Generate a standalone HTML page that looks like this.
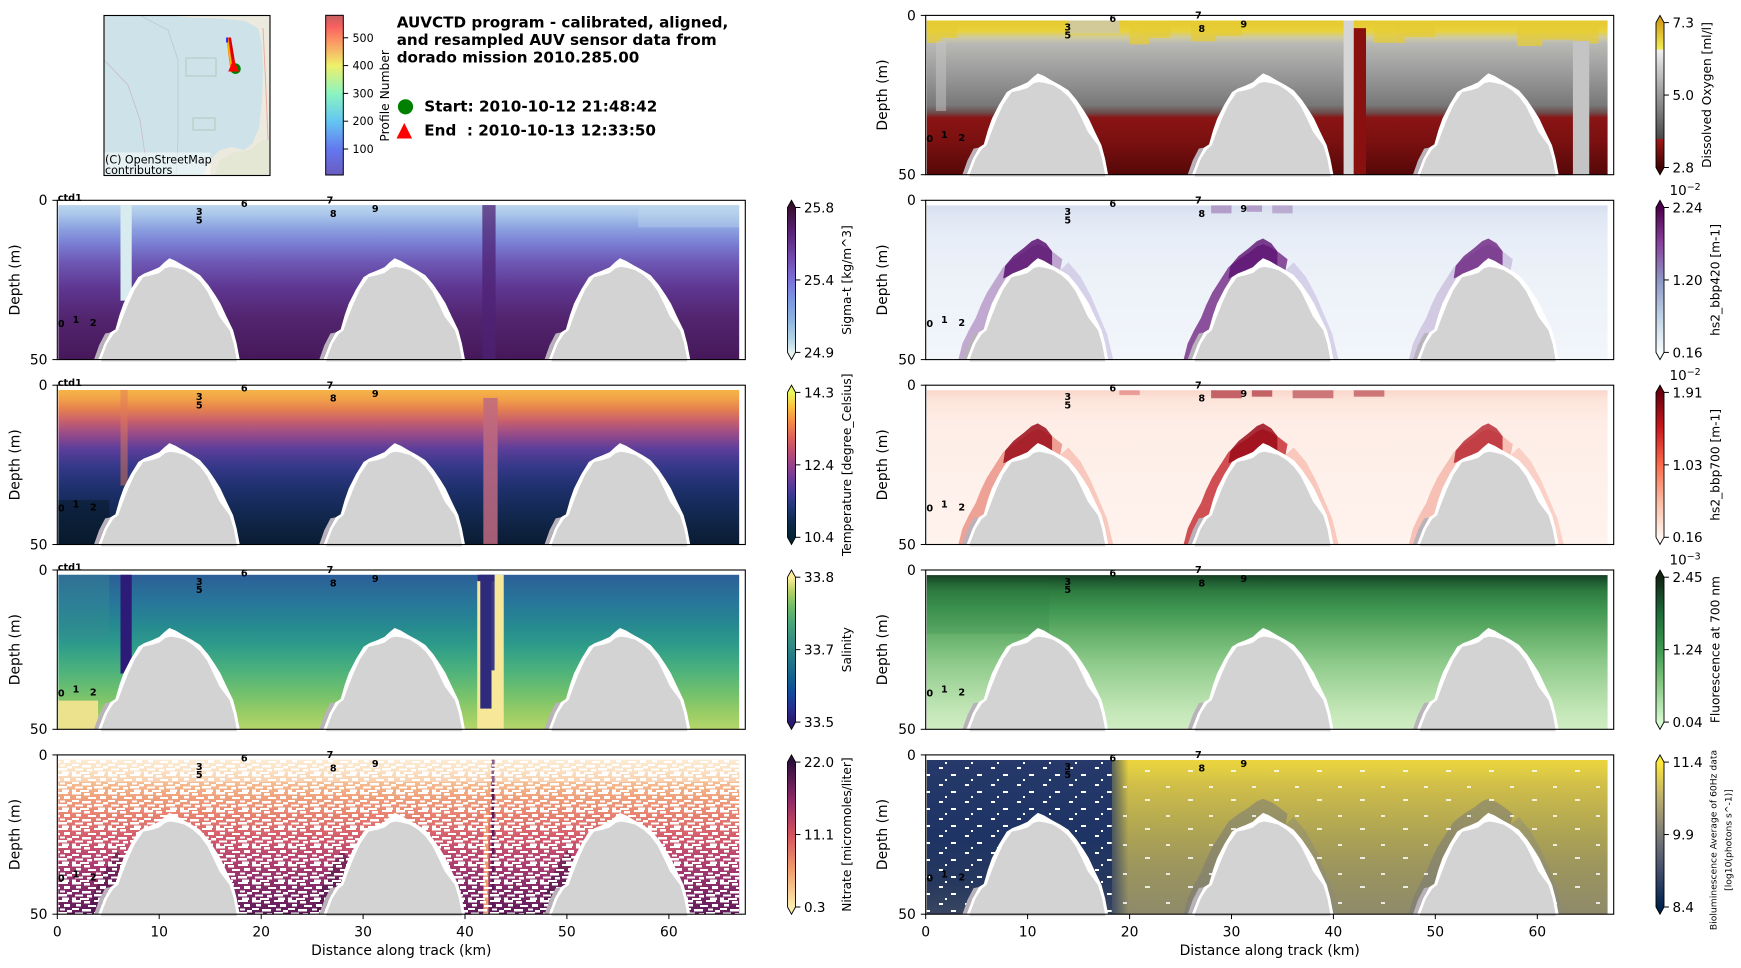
<!DOCTYPE html>
<html><head><meta charset="utf-8"><style>
html,body{margin:0;padding:0;background:#fff;}
svg{display:block;font-family:"DejaVu Sans","Liberation Sans",sans-serif;}
.b{font-weight:bold;font-size:9.7px;text-anchor:middle;fill:#000}
.tk{font-size:13.9px;fill:#000}
.cb{font-size:13.5px;fill:#000}
.cl{font-size:12.2px;fill:#000}
</style></head><body>
<svg width="1741" height="968" viewBox="0 0 1741 968" xmlns="http://www.w3.org/2000/svg">
<defs>
<linearGradient id="gSig" x1="0" y1="0" x2="0" y2="1"><stop offset="0" stop-color="#bcd6ec"/><stop offset=".06" stop-color="#aac6ea"/><stop offset=".15" stop-color="#8ca2e0"/><stop offset=".25" stop-color="#7a7ed4"/><stop offset=".38" stop-color="#6c56b2"/><stop offset=".54" stop-color="#5e3690"/><stop offset=".74" stop-color="#52246e"/><stop offset="1" stop-color="#46185a"/></linearGradient>
<linearGradient id="gTemp" x1="0" y1="0" x2="0" y2="1"><stop offset="0" stop-color="#f6b448"/><stop offset=".05" stop-color="#f3a448"/><stop offset=".12" stop-color="#e6824e"/><stop offset=".2" stop-color="#c8606c"/><stop offset=".28" stop-color="#9a4c88"/><stop offset=".38" stop-color="#5c3e9a"/><stop offset=".5" stop-color="#343888"/><stop offset=".64" stop-color="#1e306c"/><stop offset=".8" stop-color="#122850"/><stop offset="1" stop-color="#0a1c32"/></linearGradient>
<linearGradient id="gSal" x1="0" y1="0" x2="0" y2="1"><stop offset="0" stop-color="#2c5e98"/><stop offset=".08" stop-color="#2a6a98"/><stop offset=".18" stop-color="#27769a"/><stop offset=".32" stop-color="#268890"/><stop offset=".46" stop-color="#2e9c8a"/><stop offset=".62" stop-color="#4cb27c"/><stop offset=".78" stop-color="#76c26c"/><stop offset=".9" stop-color="#9acd66"/><stop offset="1" stop-color="#b4d66a"/></linearGradient>
<linearGradient id="gNit" x1="0" y1="0" x2="0" y2="1"><stop offset="0" stop-color="#fbe4c2"/><stop offset=".08" stop-color="#f9d2a6"/><stop offset=".2" stop-color="#f3ad82"/><stop offset=".35" stop-color="#e88470"/><stop offset=".5" stop-color="#d45c6c"/><stop offset=".65" stop-color="#b44270"/><stop offset=".8" stop-color="#8c2e6c"/><stop offset="1" stop-color="#5e1a58"/></linearGradient>
<linearGradient id="gOxy" x1="0" y1="0" x2="0" y2="1"><stop offset="0" stop-color="#e6c82e"/><stop offset=".07" stop-color="#e8d23c"/><stop offset=".11" stop-color="#cfcba0"/><stop offset=".15" stop-color="#b8b8b4"/><stop offset=".28" stop-color="#a4a4a4"/><stop offset=".42" stop-color="#8e8e8e"/><stop offset=".55" stop-color="#787878"/><stop offset=".6" stop-color="#6e4a4a"/><stop offset=".63" stop-color="#8a1414"/><stop offset=".79" stop-color="#7a1010"/><stop offset="1" stop-color="#560808"/></linearGradient>
<linearGradient id="gB4" x1="0" y1="0" x2="0" y2="1"><stop offset="0" stop-color="#d6deef"/><stop offset=".06" stop-color="#dfe6f3"/><stop offset=".2" stop-color="#e7edf7"/><stop offset=".5" stop-color="#edf2f9"/><stop offset="1" stop-color="#f2f6fb"/></linearGradient>
<linearGradient id="gB7" x1="0" y1="0" x2="0" y2="1"><stop offset="0" stop-color="#fad6ca"/><stop offset=".06" stop-color="#fce4da"/><stop offset=".2" stop-color="#feede6"/><stop offset="1" stop-color="#fff3ee"/></linearGradient>
<linearGradient id="gFl" x1="0" y1="0" x2="0" y2="1"><stop offset="0" stop-color="#163e22"/><stop offset=".04" stop-color="#1e5a30"/><stop offset=".1" stop-color="#2e7a40"/><stop offset=".22" stop-color="#3e9650"/><stop offset=".38" stop-color="#64b06a"/><stop offset=".55" stop-color="#8ac888"/><stop offset=".72" stop-color="#a8d8a0"/><stop offset=".88" stop-color="#c2e6b6"/><stop offset="1" stop-color="#d0eec4"/></linearGradient>
<linearGradient id="gBioY" x1="0" y1="0" x2="0" y2="1"><stop offset="0" stop-color="#ecd43c"/><stop offset=".06" stop-color="#e2ce42"/><stop offset=".15" stop-color="#d2c048"/><stop offset=".3" stop-color="#c0b24e"/><stop offset=".5" stop-color="#aca254"/><stop offset=".7" stop-color="#9c955e"/><stop offset="1" stop-color="#8e8a6a"/></linearGradient>
<linearGradient id="gBioN" x1="0" y1="0" x2="0" y2="1"><stop offset="0" stop-color="#26396a"/><stop offset=".5" stop-color="#1e3464"/><stop offset=".8" stop-color="#26385e"/><stop offset="1" stop-color="#3a4660"/></linearGradient>
<linearGradient id="gTrans" x1="0" y1="0" x2="1" y2="0"><stop offset="0" stop-color="#1e3464"/><stop offset="1" stop-color="#1e3464" stop-opacity="0"/></linearGradient>

<linearGradient id="cbSig" x1="0" y1="0" x2="0" y2="1"><stop offset="0" stop-color="#360e24"/><stop offset=".045" stop-color="#3a1030"/><stop offset=".2" stop-color="#5a2276"/><stop offset=".35" stop-color="#7147a8"/><stop offset=".5" stop-color="#7a70d8"/><stop offset=".62" stop-color="#7d95e2"/><stop offset=".75" stop-color="#8cb4e0"/><stop offset=".88" stop-color="#b6d6e6"/><stop offset=".955" stop-color="#e6f1f1"/><stop offset="1" stop-color="#e6f1f1"/></linearGradient>
<linearGradient id="cbTemp" x1="0" y1="0" x2="0" y2="1"><stop offset="0" stop-color="#e8fa5b"/><stop offset=".045" stop-color="#e8fa5b"/><stop offset=".136" stop-color="#fbc040"/><stop offset=".227" stop-color="#f48c44"/><stop offset=".318" stop-color="#e06658"/><stop offset=".409" stop-color="#c04e70"/><stop offset=".5" stop-color="#96438a"/><stop offset=".591" stop-color="#6a3c98"/><stop offset=".682" stop-color="#403a96"/><stop offset=".773" stop-color="#1e3672"/><stop offset=".864" stop-color="#0c2a4a"/><stop offset=".955" stop-color="#042333"/><stop offset="1" stop-color="#042333"/></linearGradient>
<linearGradient id="cbSal" x1="0" y1="0" x2="0" y2="1"><stop offset="0" stop-color="#fdef9a"/><stop offset=".045" stop-color="#fdef9a"/><stop offset=".136" stop-color="#b4cf64"/><stop offset=".227" stop-color="#72bc66"/><stop offset=".318" stop-color="#4ea877"/><stop offset=".409" stop-color="#3c9580"/><stop offset=".5" stop-color="#2d8385"/><stop offset=".591" stop-color="#20718a"/><stop offset=".682" stop-color="#12608f"/><stop offset=".773" stop-color="#0f4a9a"/><stop offset=".864" stop-color="#252f8f"/><stop offset=".955" stop-color="#2a186c"/><stop offset="1" stop-color="#2a186c"/></linearGradient>
<linearGradient id="cbNit" x1="0" y1="0" x2="0" y2="1"><stop offset="0" stop-color="#2f0f3d"/><stop offset=".045" stop-color="#2f0f3d"/><stop offset=".27" stop-color="#8a2766"/><stop offset=".5" stop-color="#d4525e"/><stop offset=".73" stop-color="#f2a06e"/><stop offset=".955" stop-color="#fdedb0"/><stop offset="1" stop-color="#fdedb0"/></linearGradient>
<linearGradient id="cbOxy" x1="0" y1="0" x2="0" y2="1"><stop offset="0" stop-color="#d49c1a"/><stop offset=".045" stop-color="#d6a21c"/><stop offset=".21" stop-color="#f0ec52"/><stop offset=".22" stop-color="#efefef"/><stop offset=".5" stop-color="#9a9a9a"/><stop offset=".774" stop-color="#4a4a4a"/><stop offset=".776" stop-color="#a01818"/><stop offset=".955" stop-color="#400404"/><stop offset="1" stop-color="#400404"/></linearGradient>
<linearGradient id="cbB4" x1="0" y1="0" x2="0" y2="1"><stop offset="0" stop-color="#4d004b"/><stop offset=".045" stop-color="#4d004b"/><stop offset=".27" stop-color="#88419d"/><stop offset=".5" stop-color="#8c96c6"/><stop offset=".73" stop-color="#bfd3e6"/><stop offset=".955" stop-color="#f7fcfd"/><stop offset="1" stop-color="#f7fcfd"/></linearGradient>
<linearGradient id="cbB7" x1="0" y1="0" x2="0" y2="1"><stop offset="0" stop-color="#67000d"/><stop offset=".045" stop-color="#67000d"/><stop offset=".27" stop-color="#cb181d"/><stop offset=".5" stop-color="#fb6a4a"/><stop offset=".73" stop-color="#fcbba1"/><stop offset=".955" stop-color="#fff5f0"/><stop offset="1" stop-color="#fff5f0"/></linearGradient>
<linearGradient id="cbFl" x1="0" y1="0" x2="0" y2="1"><stop offset="0" stop-color="#122414"/><stop offset=".045" stop-color="#122414"/><stop offset=".27" stop-color="#1d6a38"/><stop offset=".5" stop-color="#3c9a50"/><stop offset=".73" stop-color="#8acb85"/><stop offset=".955" stop-color="#d7f9d0"/><stop offset="1" stop-color="#d7f9d0"/></linearGradient>
<linearGradient id="cbBio" x1="0" y1="0" x2="0" y2="1"><stop offset="0" stop-color="#fee838"/><stop offset=".045" stop-color="#fee838"/><stop offset=".27" stop-color="#bcaf6f"/><stop offset=".5" stop-color="#7c7b78"/><stop offset=".73" stop-color="#414d6b"/><stop offset=".955" stop-color="#00224e"/><stop offset="1" stop-color="#00224e"/></linearGradient>
<linearGradient id="cbProf" x1="0" y1="0" x2="0" y2="1"><stop offset="0" stop-color="#c46060"/><stop offset=".07" stop-color="#f86060"/><stop offset=".141" stop-color="#fc8a64"/><stop offset=".315" stop-color="#eef06a"/><stop offset=".489" stop-color="#8cf4c0"/><stop offset=".663" stop-color="#64c6f2"/><stop offset=".837" stop-color="#6478f0"/><stop offset="1" stop-color="#6a5cc0"/></linearGradient>

<pattern id="gaps" width="36" height="18" patternUnits="userSpaceOnUse">
<g fill="#fff">
<rect x="0" y="0" width="9" height="2.5"/><rect x="12" y="1" width="6" height="2.5"/><rect x="22" y="0" width="10" height="2"/>
<rect x="4" y="4" width="5" height="2.5"/><rect x="16" y="5" width="8" height="2"/><rect x="28" y="4" width="6" height="3"/>
<rect x="0" y="8" width="7" height="2"/><rect x="10" y="9" width="9" height="2.5"/><rect x="24" y="8.5" width="5" height="2"/><rect x="31" y="10" width="5" height="2.5"/>
<rect x="3" y="12.5" width="8" height="2"/><rect x="15" y="13" width="5" height="2.5"/><rect x="22" y="12" width="9" height="2.5"/>
<rect x="0" y="15.5" width="4" height="2.5"/><rect x="8" y="16" width="9" height="2"/><rect x="26" y="15.5" width="7" height="2.5"/>
</g>
</pattern>
<pattern id="specks" width="26" height="17" patternUnits="userSpaceOnUse">
<rect x="3" y="2" width="4" height="2" fill="#fff"/><rect x="15" y="9" width="5" height="2" fill="#fff"/><rect x="9" y="14" width="2" height="2" fill="#fff"/>
</pattern>
<pattern id="specks2" width="43" height="29" patternUnits="userSpaceOnUse">
<rect x="5" y="3" width="4" height="2" fill="#fff"/><rect x="27" y="16" width="5" height="2" fill="#fff"/>
</pattern>

<polygon id="aw" points="4.0,50.6 4.0,50 4.6,45 5.2,41.5 5.7,40.5 6.1,36 6.5,32.4 7.2,28 7.95,24.1 8.5,23 9.3,22 10.0,21 10.5,19.5 11.0,18.2 11.6,19 12.4,20.5 13.2,21.9 14.0,23.5 14.8,26.5 15.5,29.8 16.0,32.4 16.6,36.5 17.25,40.8 17.6,45 17.9,50 17.9,50.6"/>
<polygon id="ag" points="4.3,50.6 4.3,50 4.9,45 5.5,42 5.97,40.8 6.4,37 6.97,32.4 7.6,28 8.44,24.1 9.3,23.5 10.0,22.8 10.6,21.3 11.1,20.9 11.7,21.2 12.5,21.9 13.3,23.5 14.0,25.5 14.7,28.5 15.3,32.4 15.9,36.5 16.9,40.8 17.3,45 17.6,50 17.6,50.6"/>
<polygon id="ash" points="3.6,50 4.1,45.5 4.7,41.8 5.2,41.5 4.6,45 4.0,50"/>
<polygon id="hL" points="3.2,50 3.6,45 4.2,41 4.9,37 5.4,33 6.0,29 6.8,25 7.6,21 8.6,18.5 9.6,16.5 10.4,14.5 11.0,13.8 11.8,14.8 12.6,16.5 13.4,18.5 13.2,21.9 12.4,20.5 11.6,19 11.0,18.2 10.5,19.5 10.0,21 9.3,22 8.5,23 7.95,24.1 7.2,28 6.5,32.4 6.1,36 5.7,40.5 5.2,41.5 4.6,45 4.0,50"/>
<polygon id="hLb" points="3.0,50 3.5,44 4.2,39 5.0,34 5.8,30 6.5,32.4 6.1,36 5.7,40.5 5.2,41.5 4.6,45 4.0,50"/>
<polygon id="hP" points="7.6,24.5 7.8,20.5 8.6,17.5 9.6,15 10.4,12.8 11.0,12 11.8,13.5 12.4,16 12.4,20.5 11.6,19 11.0,18.2 10.5,19.5 10.0,21 9.3,22 8.5,23 7.95,24.1"/>
<polygon id="hR" points="13.2,21.9 14.0,19.5 15.2,24 16.2,30 17.0,36 17.8,42 18.4,50 17.9,50 17.6,45 17.25,40.8 16.6,36.5 16.0,32.4 15.5,29.8 14.8,26.5 14.0,23.5"/>
<g id="arch1"><use href="#aw" fill="#ffffff"/><use href="#ash" fill="#b9b2ba"/><use href="#ag" fill="#d3d3d3"/></g>
<g id="arches"><use href="#arch1"/><use href="#arch1" x="22.1"/><use href="#arch1" x="44.2"/></g>
</defs>

<rect width="1741" height="968" fill="#fff"/>

<!-- ============ MAP ============ -->
<rect x="104" y="15.5" width="166" height="160" fill="#cde2e9"/>
<polygon points="168,15.5 270,15.5 270,175.4 203,175.4 206,168 212,158 220,150 232,147 244,150 252,144 259,128 262,100 263,70 262,45 258,28 245,21 220,18.5 190,17.5" fill="#ece9df"/>
<polygon points="215,175.4 220,160 235,152 250,150 262,140 270,140 270,175.4" fill="#dfe6cf" opacity=".7"/>
<path d="M263,28 L266,90 L268,140" stroke="#e8b0a0" stroke-width="1" fill="none"/>
<path d="M104,60 L128,85 L140,120 L148,175" stroke="#c9bccb" stroke-width=".8" fill="none"/>
<path d="M140,15.5 L168,30 L178,60 L178,140 L176,175" stroke="#b7cbd3" stroke-width=".8" fill="none"/>
<rect x="186" y="58" width="30" height="18" fill="none" stroke="#a9c6b4" stroke-width=".8"/>
<rect x="193" y="118" width="22" height="12" fill="none" stroke="#a9c6b4" stroke-width=".8"/>
<polygon points="226.3,37.5 228.6,37.5 232.2,66 229.8,66" fill="#ff8c00"/>
<polygon points="227.4,42 228.2,42 231.4,64 230.6,64" fill="#f0c800"/>
<polygon points="228.4,37.5 231,37.5 236,68 232.6,68" fill="#dd0000"/>
<rect x="226.2" y="37.5" width="1.6" height="5" fill="#1010ff"/>
<circle cx="235.5" cy="68.7" r="5.3" fill="#008000"/>
<polygon points="233.6,59 228.2,71.5 239,71.5" fill="#ff0000"/>
<rect x="104.5" y="152.5" width="106" height="22.5" fill="#fff" opacity=".5"/>
<text x="105" y="163.4" font-size="11.1" fill="#000">(C) OpenStreetMap</text>
<text x="105" y="174.2" font-size="11.1" fill="#000">contributors</text>
<rect x="104" y="15.5" width="166" height="160" fill="none" stroke="#000" stroke-width="1.1"/>

<!-- Profile colorbar -->
<rect x="325.7" y="15.3" width="17.6" height="159.7" fill="url(#cbProf)" stroke="#000" stroke-width="1"/>
<g stroke="#000" stroke-width="1">
<line x1="343.3" y1="37.8" x2="348.2" y2="37.8"/><line x1="343.3" y1="65.6" x2="348.2" y2="65.6"/><line x1="343.3" y1="93.4" x2="348.2" y2="93.4"/><line x1="343.3" y1="121.2" x2="348.2" y2="121.2"/><line x1="343.3" y1="149" x2="348.2" y2="149"/>
</g>
<g font-size="11.1" fill="#000">
<text x="352.5" y="41.8">500</text><text x="352.5" y="69.6">400</text><text x="352.5" y="97.4">300</text><text x="352.5" y="125.2">200</text><text x="352.5" y="153">100</text>
</g>
<text transform="translate(389,95.8) rotate(-90)" text-anchor="middle" font-size="12.3" fill="#000">Profile Number</text>

<!-- Title -->
<g font-weight="bold" font-size="15.3" fill="#000">
<text x="396.7" y="27.7" textLength="331.6" lengthAdjust="spacingAndGlyphs">AUVCTD program - calibrated, aligned,</text>
<text x="396.7" y="45" textLength="320" lengthAdjust="spacingAndGlyphs">and resampled AUV sensor data from</text>
<text x="396.7" y="62.3" textLength="242.6" lengthAdjust="spacingAndGlyphs">dorado mission 2010.285.00</text>
<text x="424.3" y="111.5" textLength="233" lengthAdjust="spacingAndGlyphs">Start: 2010-10-12 21:48:42</text>
<text x="424.3" y="135.5" textLength="231.7" lengthAdjust="spacingAndGlyphs" style="white-space:pre">End  : 2010-10-13 12:33:50</text>
</g>
<circle cx="405.5" cy="106.8" r="7.6" fill="#008000"/>
<polygon points="404.3,123 396.5,138.5 412.1,138.5" fill="#ff0000"/>

<!-- ============ LEFT ROW 1 : SIGMA-T ============ -->
<g transform="translate(57.3,200.3) scale(10.1926,3.186)">
<rect x="0.1" y="1.5" width="66.8" height="48.5" fill="url(#gSig)"/>
<rect x="57" y="1.5" width="9.9" height="7" fill="#c4dcee" opacity=".35"/>
<rect x="6.2" y="1.5" width="1.1" height="30" fill="#d8ecf0"/>
<rect x="41.7" y="1.5" width="1.3" height="48.5" fill="#4e2274" opacity=".75"/>
<use href="#arches"/>
</g>
<!-- ============ LEFT ROW 2 : TEMPERATURE ============ -->
<g transform="translate(57.3,385.2) scale(10.1926,3.186)">
<rect x="0.1" y="1.5" width="66.8" height="48.5" fill="url(#gTemp)"/>
<rect x="41.8" y="4" width="1.4" height="46" fill="#c06a80" opacity=".85"/>
<rect x="6.2" y="1.5" width="0.7" height="30" fill="#e07a58" opacity=".5"/>
<rect x="0.1" y="36" width="5" height="14" fill="#061826" opacity=".5"/>
<use href="#arches"/>
</g>
<!-- ============ LEFT ROW 3 : SALINITY ============ -->
<g transform="translate(57.3,570) scale(10.1926,3.186)">
<rect x="0.1" y="1.5" width="66.8" height="48.5" fill="url(#gSal)"/>
<rect x="0.1" y="1.5" width="5" height="20" fill="#3a9090" opacity=".35"/>
<rect x="0.1" y="41" width="3.9" height="9" fill="#ece28e"/>
<rect x="6.2" y="1.5" width="1.1" height="31" fill="#2c1c78"/>
<rect x="41.2" y="1.5" width="2.6" height="48.5" fill="#f6e898"/>
<rect x="41.5" y="1.5" width="1.1" height="42" fill="#2e2a7c"/>
<rect x="42.6" y="1.5" width="0.3" height="30" fill="#3a3a8a"/>
<rect x="41.2" y="1.5" width="1.7" height="2" fill="#2e2a7c"/>
<use href="#arches"/>
</g>
<!-- ============ LEFT ROW 4 : NITRATE ============ -->
<g transform="translate(57.3,754.9) scale(10.1926,3.186)">
<rect x="0.1" y="1.5" width="66.8" height="48.5" fill="url(#gNit)"/>
<use href="#hLb" fill="#4a1248" opacity=".55"/><use href="#hLb" fill="#4a1248" opacity=".55" x="22.1"/><use href="#hLb" fill="#4a1248" opacity=".55" x="44.2"/>
<rect x="41.8" y="18" width="0.5" height="32" fill="#f0a070"/>
<rect x="42.6" y="1.5" width="0.3" height="48.5" fill="#5a1a5a"/>
<rect x="0.1" y="1.5" width="66.8" height="7" fill="#fff" opacity=".3"/>
</g>
<rect x="58.3" y="759.7" width="680.9" height="154.4" fill="url(#gaps)"/>
<g transform="translate(57.3,754.9) scale(10.1926,3.186)"><use href="#arches"/></g>

<!-- ============ RIGHT ROW 0 : OXYGEN ============ -->
<g transform="translate(925.7,15.4) scale(10.1926,3.186)">
<rect x="0.1" y="1.6" width="66.8" height="48.4" fill="url(#gOxy)"/>
<g fill="#e6cc34" opacity=".75">
<rect x="0.1" y="1.6" width="1.5" height="7"/><rect x="1.6" y="1.6" width="1.5" height="5.5"/>
<rect x="20" y="1.6" width="2" height="7.5"/><rect x="22" y="1.6" width="2" height="5.5"/>
<rect x="26" y="1.6" width="2.5" height="6.5"/><rect x="28.5" y="1.6" width="2.5" height="4.8"/>
<rect x="44" y="1.6" width="3" height="7"/><rect x="47" y="1.6" width="3" height="5.2"/>
<rect x="58" y="1.6" width="2.5" height="8"/><rect x="60.5" y="1.6" width="3" height="6"/><rect x="63.5" y="1.6" width="2.5" height="7.2"/>
</g>
<rect x="14" y="1.6" width="5" height="4" fill="#c8c8c0" opacity=".7"/>
<rect x="1.0" y="8" width="1.0" height="22" fill="#c8c8c8" opacity=".5"/>
<rect x="41.0" y="1.6" width="1.0" height="48.4" fill="#d6d6d6"/>
<rect x="42.0" y="4" width="1.2" height="46" fill="#8a1010"/>
<rect x="63.5" y="8" width="1.6" height="42" fill="#c4c4c4"/>
<use href="#arches"/>
</g>
<!-- ============ RIGHT ROW 1 : BBP420 ============ -->
<g transform="translate(925.7,200.3) scale(10.1926,3.186)">
<rect x="0.1" y="1.6" width="66.8" height="48.4" fill="url(#gB4)"/>
<rect x="28" y="1.6" width="2" height="2.5" fill="#8a5aa0" opacity=".5"/>
<rect x="31.5" y="1.6" width="1.5" height="2" fill="#8a5aa0" opacity=".5"/>
<rect x="34" y="1.6" width="2" height="2.5" fill="#8a5aa0" opacity=".4"/>
<use href="#hR" fill="#b8a8d4" opacity=".45"/><use href="#hR" fill="#b8a8d4" opacity=".45" x="22.1"/>
<use href="#hL" fill="#9a6aae" opacity=".55"/><use href="#hP" fill="#5a1070" opacity=".85"/>
<use href="#hL" fill="#6a1a7c" opacity=".75" x="22.1"/><use href="#hP" fill="#5a1070" opacity=".8" x="22.1"/>
<use href="#hL" fill="#a88ac0" opacity=".4" x="44.2"/><use href="#hP" fill="#6a2080" opacity=".8" x="44.2"/>
<use href="#arches"/>
</g>
<!-- ============ RIGHT ROW 2 : BBP700 ============ -->
<g transform="translate(925.7,385.2) scale(10.1926,3.186)">
<rect x="0.1" y="1.6" width="66.8" height="48.4" fill="url(#gB7)"/>
<rect x="28" y="1.6" width="3" height="2.5" fill="#a01020" opacity=".6"/>
<rect x="32" y="1.6" width="2" height="2" fill="#a01020" opacity=".6"/>
<rect x="36" y="1.6" width="4" height="2.5" fill="#a01020" opacity=".5"/>
<rect x="42" y="1.6" width="3" height="2" fill="#a01020" opacity=".5"/>
<rect x="19" y="1.6" width="2" height="1.5" fill="#d04040" opacity=".4"/>
<use href="#hR" fill="#f4a090" opacity=".5"/><use href="#hR" fill="#f4a090" opacity=".5" x="22.1"/><use href="#hR" fill="#f4a090" opacity=".4" x="44.2"/>
<use href="#hL" fill="#e06050" opacity=".55"/><use href="#hP" fill="#9a0c18" opacity=".85"/>
<use href="#hL" fill="#c01820" opacity=".75" x="22.1"/><use href="#hP" fill="#9a0c18" opacity=".85" x="22.1"/>
<use href="#hL" fill="#f09080" opacity=".5" x="44.2"/><use href="#hP" fill="#b01420" opacity=".75" x="44.2"/>
<use href="#arches"/>
</g>
<!-- ============ RIGHT ROW 3 : FLUORESCENCE ============ -->
<g transform="translate(925.7,570) scale(10.1926,3.186)">
<rect x="0.1" y="1.6" width="66.8" height="48.4" fill="url(#gFl)"/>
<rect x="0.1" y="4" width="12" height="16" fill="#2a7a40" opacity=".18"/>
<use href="#arches"/>
</g>
<!-- ============ RIGHT ROW 4 : BIOLUMINESCENCE ============ -->
<g transform="translate(925.7,754.9) scale(10.1926,3.186)">
<rect x="0.1" y="1.6" width="66.8" height="48.4" fill="url(#gBioY)"/>
<use href="#hL" fill="#7a7a78" opacity=".55" x="22.1"/><use href="#hL" fill="#7a7a78" opacity=".55" x="44.2"/>
<use href="#hR" fill="#8a8a80" opacity=".45" x="22.1"/><use href="#hR" fill="#8a8a80" opacity=".45" x="44.2"/>
<rect x="0.1" y="1.6" width="18.2" height="48.4" fill="url(#gBioN)"/>
<rect x="18.3" y="1.6" width="1.6" height="48.4" fill="url(#gTrans)" opacity=".7"/>
</g>
<rect x="926.7" y="760" width="185" height="154.2" fill="url(#specks)"/>
<rect x="1112" y="760" width="497" height="154.2" fill="url(#specks2)" opacity=".8"/>
<g transform="translate(925.7,754.9) scale(10.1926,3.186)"><use href="#arches"/></g>

<!-- ============ AXES FRAMES ============ -->
<g fill="none" stroke="#000" stroke-width="1.1">
<rect x="57.3" y="200.3" width="688" height="159.3"/>
<rect x="57.3" y="385.2" width="688" height="159.3"/>
<rect x="57.3" y="570" width="688" height="159.3"/>
<rect x="57.3" y="754.9" width="688" height="159.3"/>
<rect x="925.7" y="15.4" width="688" height="159.3"/>
<rect x="925.7" y="200.3" width="688" height="159.3"/>
<rect x="925.7" y="385.2" width="688" height="159.3"/>
<rect x="925.7" y="570" width="688" height="159.3"/>
<rect x="925.7" y="754.9" width="688" height="159.3"/>
</g>

<!-- Y ticks -->
<g stroke="#000" stroke-width="1">
<line x1="52.4" y1="200.3" x2="57.3" y2="200.3"/><line x1="52.4" y1="359.6" x2="57.3" y2="359.6"/>
<line x1="52.4" y1="385.2" x2="57.3" y2="385.2"/><line x1="52.4" y1="544.5" x2="57.3" y2="544.5"/>
<line x1="52.4" y1="570" x2="57.3" y2="570"/><line x1="52.4" y1="729.3" x2="57.3" y2="729.3"/>
<line x1="52.4" y1="754.9" x2="57.3" y2="754.9"/><line x1="52.4" y1="914.2" x2="57.3" y2="914.2"/>
<line x1="920.8" y1="15.4" x2="925.7" y2="15.4"/><line x1="920.8" y1="174.7" x2="925.7" y2="174.7"/>
<line x1="920.8" y1="200.3" x2="925.7" y2="200.3"/><line x1="920.8" y1="359.6" x2="925.7" y2="359.6"/>
<line x1="920.8" y1="385.2" x2="925.7" y2="385.2"/><line x1="920.8" y1="544.5" x2="925.7" y2="544.5"/>
<line x1="920.8" y1="570" x2="925.7" y2="570"/><line x1="920.8" y1="729.3" x2="925.7" y2="729.3"/>
<line x1="920.8" y1="754.9" x2="925.7" y2="754.9"/><line x1="920.8" y1="914.2" x2="925.7" y2="914.2"/>
<line x1="57.3" y1="914.2" x2="57.3" y2="919.1"/><line x1="159.2" y1="914.2" x2="159.2" y2="919.1"/><line x1="261.2" y1="914.2" x2="261.2" y2="919.1"/><line x1="363.1" y1="914.2" x2="363.1" y2="919.1"/><line x1="465" y1="914.2" x2="465" y2="919.1"/><line x1="566.9" y1="914.2" x2="566.9" y2="919.1"/><line x1="668.9" y1="914.2" x2="668.9" y2="919.1"/>
<line x1="925.7" y1="914.2" x2="925.7" y2="919.1"/><line x1="1027.6" y1="914.2" x2="1027.6" y2="919.1"/><line x1="1129.6" y1="914.2" x2="1129.6" y2="919.1"/><line x1="1231.5" y1="914.2" x2="1231.5" y2="919.1"/><line x1="1333.4" y1="914.2" x2="1333.4" y2="919.1"/><line x1="1435.3" y1="914.2" x2="1435.3" y2="919.1"/><line x1="1537.3" y1="914.2" x2="1537.3" y2="919.1"/>
</g>
<g class="tk" text-anchor="end">
<text x="47.5" y="205.2">0</text><text x="47.5" y="364.5">50</text>
<text x="47.5" y="390.1">0</text><text x="47.5" y="549.4">50</text>
<text x="47.5" y="574.9">0</text><text x="47.5" y="734.2">50</text>
<text x="47.5" y="759.8">0</text><text x="47.5" y="919.1">50</text>
<text x="915.9" y="20.3">0</text><text x="915.9" y="179.6">50</text>
<text x="915.9" y="205.2">0</text><text x="915.9" y="364.5">50</text>
<text x="915.9" y="390.1">0</text><text x="915.9" y="549.4">50</text>
<text x="915.9" y="574.9">0</text><text x="915.9" y="734.2">50</text>
<text x="915.9" y="759.8">0</text><text x="915.9" y="919.1">50</text>
</g>
<g class="tk" text-anchor="middle">
<text x="57.3" y="936.5">0</text><text x="159.2" y="936.5">10</text><text x="261.2" y="936.5">20</text><text x="363.1" y="936.5">30</text><text x="465" y="936.5">40</text><text x="566.9" y="936.5">50</text><text x="668.9" y="936.5">60</text>
<text x="925.7" y="936.5">0</text><text x="1027.6" y="936.5">10</text><text x="1129.6" y="936.5">20</text><text x="1231.5" y="936.5">30</text><text x="1333.4" y="936.5">40</text><text x="1435.3" y="936.5">50</text><text x="1537.3" y="936.5">60</text>
<text x="401.3" y="955">Distance along track (km)</text>
<text x="1269.7" y="955">Distance along track (km)</text>
</g>
<g class="tk" text-anchor="middle">
<text transform="translate(19.3,279.95) rotate(-90)">Depth (m)</text>
<text transform="translate(19.3,464.85) rotate(-90)">Depth (m)</text>
<text transform="translate(19.3,649.65) rotate(-90)">Depth (m)</text>
<text transform="translate(19.3,834.55) rotate(-90)">Depth (m)</text>
<text transform="translate(887.1,95.05) rotate(-90)">Depth (m)</text>
<text transform="translate(887.1,279.95) rotate(-90)">Depth (m)</text>
<text transform="translate(887.1,464.85) rotate(-90)">Depth (m)</text>
<text transform="translate(887.1,649.65) rotate(-90)">Depth (m)</text>
<text transform="translate(887.1,834.55) rotate(-90)">Depth (m)</text>
</g>

<!-- Panel annotations -->
<g class="b">
<text x="57.8" y="201" text-anchor="start">ctd1</text>
<text x="199.3" y="215.2">3</text><text x="199.3" y="223.5">5</text><text x="244.3" y="206.8">6</text><text x="330" y="203.5">7</text><text x="333.3" y="216.8">8</text><text x="375.3" y="212.2">9</text><text x="61.3" y="326.8">0</text><text x="76" y="322.8">1</text><text x="93.3" y="325.8">2</text>
<text x="57.8" y="385.9" text-anchor="start">ctd1</text>
<text x="199.3" y="400.1">3</text><text x="199.3" y="408.4">5</text><text x="244.3" y="391.7">6</text><text x="330" y="388.4">7</text><text x="333.3" y="401.7">8</text><text x="375.3" y="397.1">9</text><text x="61.3" y="511.7">0</text><text x="76" y="507.7">1</text><text x="93.3" y="510.7">2</text>
<text x="57.8" y="570.7" text-anchor="start">ctd1</text>
<text x="199.3" y="584.9">3</text><text x="199.3" y="593.2">5</text><text x="244.3" y="576.5">6</text><text x="330" y="573.2">7</text><text x="333.3" y="586.5">8</text><text x="375.3" y="581.9">9</text><text x="61.3" y="696.5">0</text><text x="76" y="692.5">1</text><text x="93.3" y="695.5">2</text>
<text x="199.3" y="769.8">3</text><text x="199.3" y="778.1">5</text><text x="244.3" y="761.4">6</text><text x="330" y="758.1">7</text><text x="333.3" y="771.4">8</text><text x="375.3" y="766.8">9</text><text x="61.3" y="881.4">0</text><text x="76" y="877.4">1</text><text x="93.3" y="880.4">2</text>

<text x="1067.7" y="30.3">3</text><text x="1067.7" y="38.6">5</text><text x="1112.7" y="21.9">6</text><text x="1198.4" y="18.6">7</text><text x="1201.7" y="31.9">8</text><text x="1243.7" y="27.3">9</text><text x="929.7" y="141.9">0</text><text x="944.4" y="137.9">1</text><text x="961.7" y="140.9">2</text>
<text x="1067.7" y="215.2">3</text><text x="1067.7" y="223.5">5</text><text x="1112.7" y="206.8">6</text><text x="1198.4" y="203.5">7</text><text x="1201.7" y="216.8">8</text><text x="1243.7" y="212.2">9</text><text x="929.7" y="326.8">0</text><text x="944.4" y="322.8">1</text><text x="961.7" y="325.8">2</text>
<text x="1067.7" y="400.1">3</text><text x="1067.7" y="408.4">5</text><text x="1112.7" y="391.7">6</text><text x="1198.4" y="388.4">7</text><text x="1201.7" y="401.7">8</text><text x="1243.7" y="397.1">9</text><text x="929.7" y="511.7">0</text><text x="944.4" y="507.7">1</text><text x="961.7" y="510.7">2</text>
<text x="1067.7" y="584.9">3</text><text x="1067.7" y="593.2">5</text><text x="1112.7" y="576.5">6</text><text x="1198.4" y="573.2">7</text><text x="1201.7" y="586.5">8</text><text x="1243.7" y="581.9">9</text><text x="929.7" y="696.5">0</text><text x="944.4" y="692.5">1</text><text x="961.7" y="695.5">2</text>
<text x="1067.7" y="769.8">3</text><text x="1067.7" y="778.1">5</text><text x="1112.7" y="761.4">6</text><text x="1198.4" y="758.1">7</text><text x="1201.7" y="771.4">8</text><text x="1243.7" y="766.8">9</text><text x="929.7" y="881.4">0</text><text x="944.4" y="877.4">1</text><text x="961.7" y="880.4">2</text>
</g>

<!-- ============ COLORBARS ============ -->
<g stroke="#000" stroke-width="0.9">
<polygon points="787.5,207.5 791.5,200.3 795.5,207.5 795.5,352.4 791.5,359.6 787.5,352.4" fill="url(#cbSig)"/>
<polygon points="787.5,392.4 791.5,385.2 795.5,392.4 795.5,537.3 791.5,544.5 787.5,537.3" fill="url(#cbTemp)"/>
<polygon points="787.5,577.2 791.5,570 795.5,577.2 795.5,722.1 791.5,729.3 787.5,722.1" fill="url(#cbSal)"/>
<polygon points="787.5,762.1 791.5,754.9 795.5,762.1 795.5,907 791.5,914.2 787.5,907" fill="url(#cbNit)"/>
<polygon points="1656,22.6 1660,15.4 1664,22.6 1664,167.5 1660,174.7 1656,167.5" fill="url(#cbOxy)"/>
<polygon points="1656,207.5 1660,200.3 1664,207.5 1664,352.4 1660,359.6 1656,352.4" fill="url(#cbB4)"/>
<polygon points="1656,392.4 1660,385.2 1664,392.4 1664,537.3 1660,544.5 1656,537.3" fill="url(#cbB7)"/>
<polygon points="1656,577.2 1660,570 1664,577.2 1664,722.1 1660,729.3 1656,722.1" fill="url(#cbFl)"/>
<polygon points="1656,762.1 1660,754.9 1664,762.1 1664,907 1660,914.2 1656,907" fill="url(#cbBio)"/>
</g>
<g stroke="#000" stroke-width="1">
<line x1="795.5" y1="207.5" x2="800.4" y2="207.5"/><line x1="795.5" y1="279.95" x2="800.4" y2="279.95"/><line x1="795.5" y1="352.4" x2="800.4" y2="352.4"/>
<line x1="795.5" y1="392.4" x2="800.4" y2="392.4"/><line x1="795.5" y1="464.85" x2="800.4" y2="464.85"/><line x1="795.5" y1="537.3" x2="800.4" y2="537.3"/>
<line x1="795.5" y1="577.2" x2="800.4" y2="577.2"/><line x1="795.5" y1="649.65" x2="800.4" y2="649.65"/><line x1="795.5" y1="722.1" x2="800.4" y2="722.1"/>
<line x1="795.5" y1="762.1" x2="800.4" y2="762.1"/><line x1="795.5" y1="834.55" x2="800.4" y2="834.55"/><line x1="795.5" y1="907" x2="800.4" y2="907"/>
<line x1="1664" y1="22.6" x2="1668.9" y2="22.6"/><line x1="1664" y1="95.05" x2="1668.9" y2="95.05"/><line x1="1664" y1="167.5" x2="1668.9" y2="167.5"/>
<line x1="1664" y1="207.5" x2="1668.9" y2="207.5"/><line x1="1664" y1="279.95" x2="1668.9" y2="279.95"/><line x1="1664" y1="352.4" x2="1668.9" y2="352.4"/>
<line x1="1664" y1="392.4" x2="1668.9" y2="392.4"/><line x1="1664" y1="464.85" x2="1668.9" y2="464.85"/><line x1="1664" y1="537.3" x2="1668.9" y2="537.3"/>
<line x1="1664" y1="577.2" x2="1668.9" y2="577.2"/><line x1="1664" y1="649.65" x2="1668.9" y2="649.65"/><line x1="1664" y1="722.1" x2="1668.9" y2="722.1"/>
<line x1="1664" y1="762.1" x2="1668.9" y2="762.1"/><line x1="1664" y1="834.55" x2="1668.9" y2="834.55"/><line x1="1664" y1="907" x2="1668.9" y2="907"/>
</g>
<g class="cb">
<text x="804" y="212.4">25.8</text><text x="804" y="284.9">25.4</text><text x="804" y="357.3">24.9</text>
<text x="804" y="397.3">14.3</text><text x="804" y="469.8">12.4</text><text x="804" y="542.2">10.4</text>
<text x="804" y="582.1">33.8</text><text x="804" y="654.6">33.7</text><text x="804" y="727">33.5</text>
<text x="804" y="767">22.0</text><text x="804" y="839.5">11.1</text><text x="804" y="911.9">0.3</text>
<text x="1672.5" y="27.5">7.3</text><text x="1672.5" y="100">5.0</text><text x="1672.5" y="172.4">2.8</text>
<text x="1672.5" y="212.4">2.24</text><text x="1672.5" y="284.9">1.20</text><text x="1672.5" y="357.3">0.16</text>
<text x="1672.5" y="397.3">1.91</text><text x="1672.5" y="469.8">1.03</text><text x="1672.5" y="542.2">0.16</text>
<text x="1672.5" y="582.1">2.45</text><text x="1672.5" y="654.6">1.24</text><text x="1672.5" y="727">0.04</text>
<text x="1672.5" y="767">11.4</text><text x="1672.5" y="839.5">9.9</text><text x="1672.5" y="911.9">8.4</text>
<text x="1669.5" y="195">10<tspan font-size="9.5" dy="-5">−2</tspan></text>
<text x="1669.5" y="379.9">10<tspan font-size="9.5" dy="-5">−2</tspan></text>
<text x="1669.5" y="564.7">10<tspan font-size="9.5" dy="-5">−3</tspan></text>
</g>
<g class="cl" text-anchor="middle">
<text transform="translate(851.1,279.95) rotate(-90)">Sigma-t [kg/m^3]</text>
<text transform="translate(851.1,464.85) rotate(-90)">Temperature [degree_Celsius]</text>
<text transform="translate(851.1,649.65) rotate(-90)">Salinity</text>
<text transform="translate(851.1,834.55) rotate(-90)">Nitrate [micromoles/liter]</text>
<text transform="translate(1711.1,95.05) rotate(-90)">Dissolved Oxygen [ml/l]</text>
<text transform="translate(1719.6,279.95) rotate(-90)">hs2_bbp420 [m-1]</text>
<text transform="translate(1719.6,464.85) rotate(-90)">hs2_bbp700 [m-1]</text>
<text transform="translate(1719.6,649.65) rotate(-90)">Fluorescence at 700 nm</text>
</g>
<g font-size="9.2" fill="#000" text-anchor="middle">
<text transform="translate(1716.6,840) rotate(-90)">Bioluminescence Average of 60Hz data</text>
<text transform="translate(1731.6,840) rotate(-90)">[log10(photons s^-1)]</text>
</g>
</svg>
</body></html>
